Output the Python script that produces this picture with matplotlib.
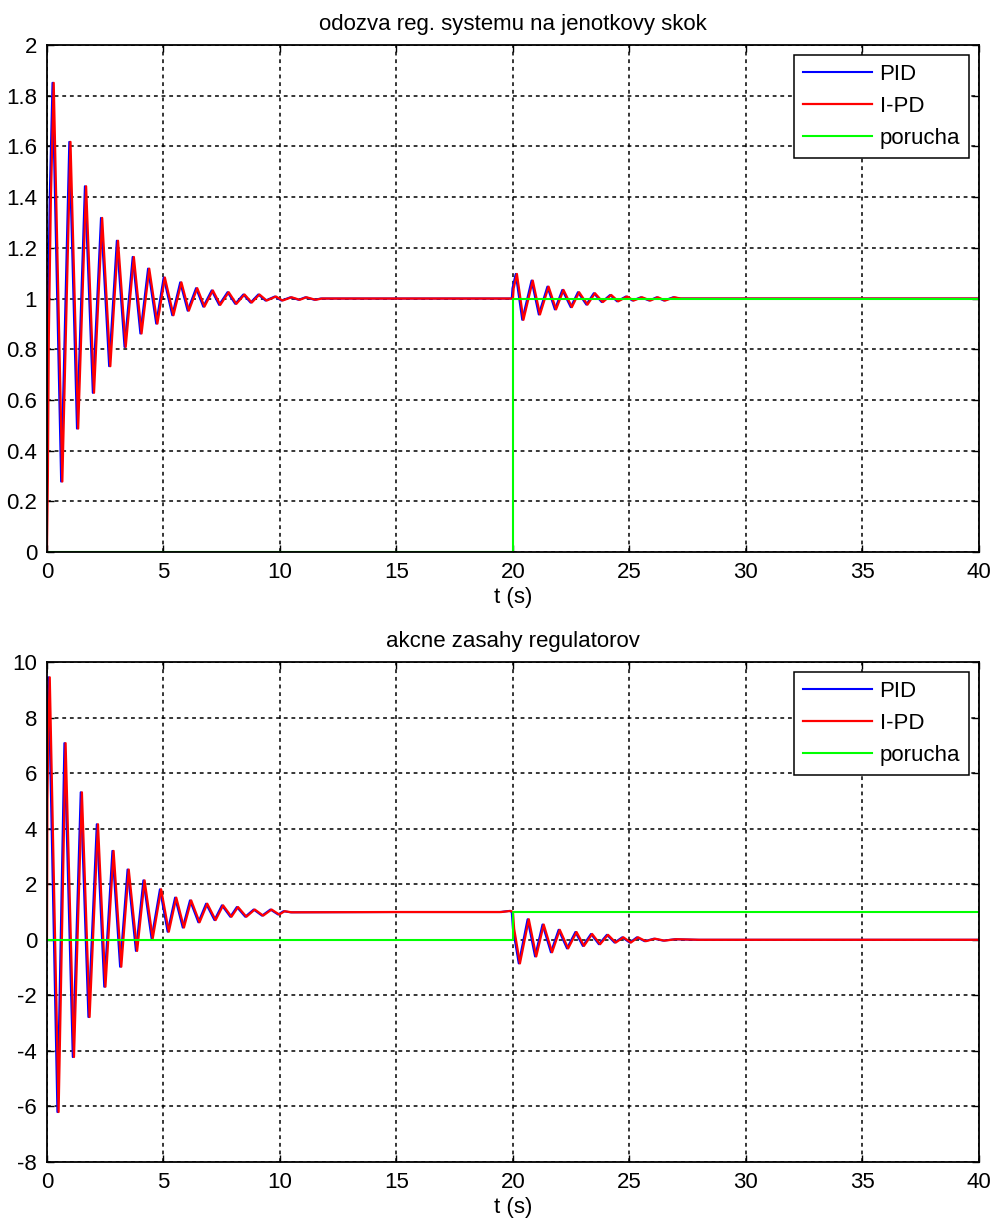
import matplotlib
matplotlib.use('Agg')
import matplotlib.pyplot as plt
from matplotlib.transforms import offset_copy

plt.rcParams['font.family'] = ['Liberation Sans', 'DejaVu Sans']
plt.rcParams['axes.unicode_minus'] = False

# odozva (vystup) - I-PD a PID sa v obrazku takmer prekryvaju
resp_t = [0, 0.04, 0.08, 0.17, 0.29, 0.66, 1.01, 1.34, 1.68, 2.02, 2.37, 2.72,
          3.05, 3.38, 3.73, 4.06, 4.39, 4.74, 5.06, 5.43, 5.77, 6.09, 6.45, 6.76,
          7.12, 7.44, 7.80, 8.13, 8.48, 8.79, 9.12, 9.43, 9.83, 10.11, 10.50,
          10.85, 11.14, 11.53, 11.8, 20.0, 20.03, 20.17, 20.45, 20.85, 21.16,
          21.53, 21.85, 22.17, 22.53, 22.84, 23.2, 23.52, 23.86, 24.22, 24.52,
          24.9, 25.18, 25.54, 25.9, 26.22, 26.53, 26.93, 27.2, 40]
resp_y = [0, 0.3, 0.85, 1.40, 1.851, 0.278, 1.618, 0.487, 1.443, 0.628, 1.318,
          0.733, 1.228, 0.809, 1.164, 0.862, 1.118, 0.901, 1.083, 0.934, 1.064,
          0.952, 1.041, 0.968, 1.032, 0.975, 1.025, 0.979, 1.016, 0.984, 1.016,
          0.992, 1.008, 0.992, 1.005, 0.995, 1.005, 0.995, 1.0, 1.0, 1.04, 1.097,
          0.916, 1.071, 0.937, 1.047, 0.957, 1.034, 0.966, 1.025, 0.976, 1.021,
          0.986, 1.014, 0.989, 1.008, 0.992, 1.005, 0.992, 1.005, 0.992, 1.005,
          1.0, 1.0]

# akcne zasahy
act_t = [0, 0.02, 0.06, 0.12, 0.5, 0.8, 1.16, 1.5, 1.83, 2.19, 2.51, 2.86, 3.19,
         3.51, 3.87, 4.19, 4.54, 4.9, 5.23, 5.55, 5.88, 6.19, 6.55, 6.88, 7.24,
         7.56, 7.92, 8.2, 8.56, 8.92, 9.28, 9.64, 9.97, 10.2, 10.5, 15.0, 19.5,
         19.9, 20.0, 20.05, 20.3, 20.68, 21.0, 21.32, 21.68, 22.01, 22.37, 22.73,
         23.05, 23.4, 23.74, 24.08, 24.41, 24.74, 25.06, 25.37, 25.7, 26.1, 26.5,
         27.0, 28.0, 40]
act_y = [0, 5.0, 7.5, 9.45, -6.2, 7.08, -4.22, 5.31, -2.78, 4.16, -1.69, 3.2,
         -0.97, 2.53, -0.4, 2.14, 0.05, 1.82, 0.29, 1.52, 0.44, 1.42, 0.63, 1.30,
         0.71, 1.24, 0.83, 1.18, 0.83, 1.09, 0.87, 1.09, 0.91, 1.03, 0.99, 1.0,
         1.0, 1.04, 1.0, 0.4, -0.85, 0.74, -0.6, 0.55, -0.45, 0.36, -0.31, 0.28,
         -0.22, 0.21, -0.16, 0.18, -0.1, 0.09, -0.1, 0.09, -0.05, 0.04, -0.03,
         0.02, 0.0, 0.0]

# porucha
por_t = [0, 20, 20, 40]
por_y = [0, 0, 1, 1]

labels = ['PID', 'I-PD', 'porucha']
titles = ['odozva reg. systemu na jenotkovy skok', 'akcne zasahy regulatorov']

fig = plt.figure(figsize=(9.97, 12.21), dpi=100)
ax1 = fig.add_axes([0.0471, 0.5479, 0.9348, 0.4152])
ax2 = fig.add_axes([0.0471, 0.0483, 0.9348, 0.4095])

fs = 16
for ax, (t, y), title in [(ax1, (resp_t, resp_y), titles[0]),
                          (ax2, (act_t, act_y), titles[1])]:
    # PID takmer totozne s I-PD, v obrazku len mierne vytrca
    shift = offset_copy(ax.transData, fig=fig, x=-1.2, y=0, units='dots')
    ax.plot(t, y, color='#0000ff', lw=1.5, transform=shift, label=labels[0])
    ax.plot(t, y, color='#ff0000', lw=1.6, label=labels[1])
    ax.plot(por_t, por_y, color='#00ff00', lw=1.5, label=labels[2])
    ax.set_xlim(0, 40)
    ax.set_xticks(range(0, 41, 5))
    ax.set_title(title, fontsize=fs, pad=11)
    ax.set_xlabel('t (s)', fontsize=fs, labelpad=3)
    ax.grid(True, color='black', lw=1.1, linestyle=(0, (2.5, 2.5)))
    ax.set_axisbelow(True)
    ax.tick_params(direction='in', top=True, right=True, length=5, width=1,
                   labelsize=fs, pad=7)
    for s in ax.spines.values():
        s.set_linewidth(1.3)
    leg = ax.legend(loc='upper right', fontsize=fs, fancybox=False,
                    framealpha=1, edgecolor='black', handlelength=3.1,
                    handletextpad=0.35, labelspacing=0.5, borderaxespad=0.45)
    leg.get_frame().set_linewidth(1.1)

ax1.set_ylim(0, 2)
ax1.set_yticks([0, 0.2, 0.4, 0.6, 0.8, 1, 1.2, 1.4, 1.6, 1.8, 2])
ax1.set_yticklabels(['0', '0.2', '0.4', '0.6', '0.8', '1', '1.2', '1.4', '1.6',
                     '1.8', '2'])
ax2.set_ylim(-8, 10)
ax2.set_yticks(range(-8, 11, 2))

fig.savefig('out.png', dpi=100)
